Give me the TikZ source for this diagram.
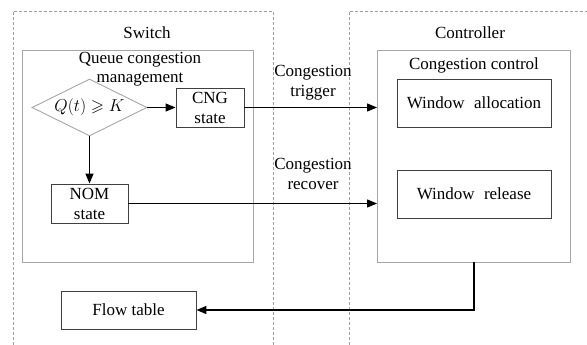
\documentclass[tikz,border=0pt]{standalone}
\usepackage{amssymb}
\usepackage{fontspec}
\setmainfont{Liberation Serif}
\usetikzlibrary{arrows.meta,shapes.geometric}

\tikzset{
  zone/.style={draw=gray!75, dash pattern=on 3pt off 2pt, line width=0.6pt},
  group/.style={draw=gray!70, line width=0.9pt, inner sep=0pt},
  state/.style={draw=black!75, line width=0.9pt, align=center, inner sep=0pt},
  link/.style={line width=1.3pt, -{Triangle[length=10pt,width=8pt]}},
}

\begin{document}
\begin{tikzpicture}[x=1pt,y=-1pt,font=\fontsize{17}{20}\selectfont]
\useasboundingbox (0,0) rectangle (587,345);
% dashed zones, open towards the page edges
\draw[zone] (13,345)--(13,11)--(273,11)--(273,345);
\draw[zone] (349,345)--(349,11)--(587,11);
\node (switch) at (147,33) {Switch};
\node (ctrl) at (470,33) {Controller};

% switch side
\node[group, minimum width=231pt, minimum height=212pt] (qcm) at (137.5,156) {};
\node[align=center] (qcmtxt) at (140,69.5) {Queue congestion\\[-1pt]management};
\node[draw=gray!70, line width=0.9pt, diamond, aspect=2, inner sep=0pt,
      minimum width=115pt, minimum height=57pt] (dq) at (89.5,107.5) {$Q(t)\geqslant K$};
\node[state, minimum width=68pt, minimum height=39pt] (cng) at (210,107.5) {CNG\\state};
\node[state, minimum width=77pt, minimum height=39pt] (nom) at (89.5,203.5) {NOM\\state};
\node[state, minimum width=135pt, minimum height=38pt] (flow) at (128.5,310) {Flow table};

% controller side
\node[group, minimum width=193pt, minimum height=212pt] (cc) at (474,156) {};
\node (cctxt) at (474,65) {Congestion control};
\node[state, minimum width=154pt, minimum height=48pt] (walloc) at (474,103) {Window\hspace{0.3em} allocation};
\node[state, minimum width=154pt, minimum height=48pt] (wrel) at (474,194) {Window\hspace{0.3em} release};

% messages
\node[align=center] (trig) at (313,83) {Congestion\\trigger};
\node[align=center] (recov) at (313,174) {Congestion\\recover};

\draw[link] (dq.east) -- (cng.west);
\draw[link] (dq.south) -- (nom.north);
\draw[link] (cng.east) -- (cng.east -| cc.west);
\draw[link] (nom.east) -- (nom.east -| cc.west);
\draw[link] (cc.south) |- (flow.east);
\end{tikzpicture}
\end{document}
